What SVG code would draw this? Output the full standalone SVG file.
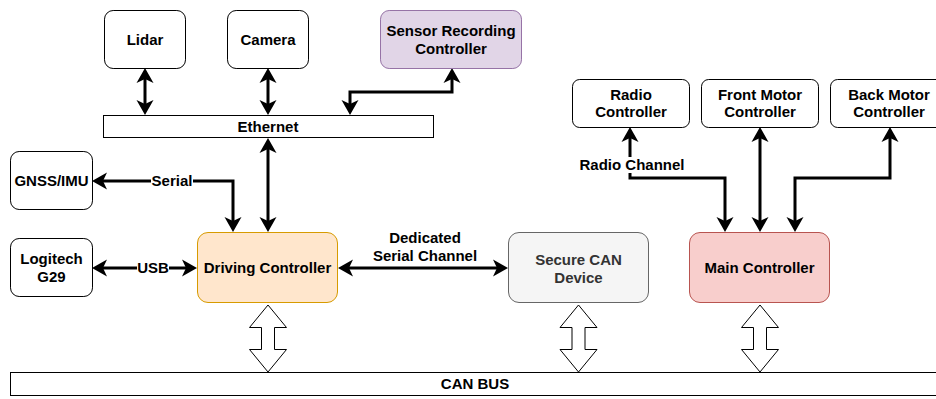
<svg xmlns="http://www.w3.org/2000/svg" width="936" height="399" viewBox="0 0 936 399">
<style>
.t{font-family:"Liberation Sans",Arial,Helvetica,sans-serif;font-weight:bold;font-size:15px;fill:#000;text-anchor:middle}
.box{fill:#fff;stroke:#000;stroke-width:1}
.ln{fill:none;stroke:#000;stroke-width:3}
.blk{fill:#fff;stroke:#000;stroke-width:1;stroke-linejoin:miter}
.bg{fill:#fff}
</style>
<defs>
<marker id="ah" markerUnits="userSpaceOnUse" viewBox="-5 -10 17 20" markerWidth="17" markerHeight="20" refX="0" refY="0" orient="auto-start-reverse">
<path d="M11,0 L-4,-8.5 L0,0 L-4,8.5 Z" fill="#000"/>
</marker>
</defs>
<rect width="936" height="399" fill="#fff"/>

<g id="connectors">
<line class="ln" x1="145" y1="79" x2="145" y2="104" marker-start="url(#ah)" marker-end="url(#ah)"/>
<line class="ln" x1="268" y1="79" x2="268" y2="104" marker-start="url(#ah)" marker-end="url(#ah)"/>
<path class="ln" d="M452,79 L452,92 L350,92 L350,104" marker-start="url(#ah)" marker-end="url(#ah)"/>
<line class="ln" x1="268" y1="149" x2="268" y2="221" marker-start="url(#ah)" marker-end="url(#ah)"/>
<path class="ln" d="M103,181 L233,181 L233,221" marker-start="url(#ah)" marker-end="url(#ah)"/>
<line class="ln" x1="103" y1="268" x2="186" y2="268" marker-start="url(#ah)" marker-end="url(#ah)"/>
<line class="ln" x1="349" y1="268" x2="497" y2="268" marker-start="url(#ah)" marker-end="url(#ah)"/>
<path class="ln" d="M630,138 L630,178 L725,178 L725,221" marker-start="url(#ah)" marker-end="url(#ah)"/>
<line class="ln" x1="760" y1="138" x2="760" y2="221" marker-start="url(#ah)" marker-end="url(#ah)"/>
<path class="ln" d="M890,138 L890,178 L795,178 L795,221" marker-start="url(#ah)" marker-end="url(#ah)"/>
<polygon class="blk" points="268,305 286.5,327.5 274.5,327.5 274.5,349.5 286.5,349.5 268,372 249.5,349.5 261.5,349.5 261.5,327.5 249.5,327.5"/>
<polygon class="blk" points="578.5,305 597,327.5 585,327.5 585,349.5 597,349.5 578.5,372 560,349.5 572,349.5 572,327.5 560,327.5"/>
<polygon class="blk" points="760,305 778.5,327.5 766.5,327.5 766.5,349.5 778.5,349.5 760,372 741.5,349.5 753.5,349.5 753.5,327.5 741.5,327.5"/>
<rect class="bg" x="151" y="173" width="42" height="16"/>
<text class="t" x="172" y="186.4">Serial</text>
<rect class="bg" x="137" y="260" width="32" height="16"/>
<text class="t" x="153" y="273.4">USB</text>
<rect class="bg" x="579" y="157" width="106" height="16"/>
<text class="t" x="632" y="170.4">Radio Channel</text>
<text class="t" x="425" y="243">Dedicated</text>
<text class="t" x="425" y="261">Serial Channel</text>
</g>

<g id="lidar">
<rect class="box" x="104.5" y="10.5" width="81" height="58" rx="8.7"/>
<text class="t" x="145" y="45">Lidar</text>
</g>
<g id="camera">
<rect class="box" x="227.5" y="10.5" width="81" height="58" rx="8.7"/>
<text class="t" x="268" y="45">Camera</text>
</g>
<g id="sensor-recording-controller">
<rect x="380.5" y="10.5" width="141" height="58" rx="8.7" fill="#e1d5e7" stroke="#9673a6"/>
<text class="t" x="451" y="36.4">Sensor Recording</text>
<text class="t" x="451" y="54.4">Controller</text>
</g>
<g id="ethernet">
<rect class="box" x="103.5" y="115.5" width="330" height="22"/>
<text class="t" x="268" y="132">Ethernet</text>
</g>
<g id="gnss-imu">
<rect class="box" x="10.5" y="151.5" width="82" height="58" rx="8.7"/>
<text class="t" x="51.5" y="186">GNSS/IMU</text>
</g>
<g id="logitech-g29">
<rect class="box" x="10.5" y="238.5" width="82" height="58" rx="8.7"/>
<text class="t" x="51.5" y="264.4">Logitech</text>
<text class="t" x="51.5" y="282.4">G29</text>
</g>
<g id="driving-controller">
<rect x="197.5" y="232.5" width="140" height="70" rx="10.5" fill="#ffe6cc" stroke="#d79b00"/>
<text class="t" x="267.5" y="273">Driving Controller</text>
</g>
<g id="secure-can-device">
<rect x="508.5" y="232.5" width="140" height="70" rx="10.5" fill="#f5f5f5" stroke="#666666"/>
<text class="t" x="578.5" y="265.4" style="fill:#333333">Secure CAN</text>
<text class="t" x="578.5" y="283.4" style="fill:#333333">Device</text>
</g>
<g id="main-controller">
<rect x="689.5" y="232.5" width="140" height="70" rx="10.5" fill="#f8cecc" stroke="#b85450"/>
<text class="t" x="759.5" y="273">Main Controller</text>
</g>
<g id="radio-controller">
<rect class="box" x="572.5" y="79.5" width="117" height="48" rx="7.2"/>
<text class="t" x="631" y="100.4">Radio</text>
<text class="t" x="631" y="117.4">Controller</text>
</g>
<g id="front-motor-controller">
<rect class="box" x="701.5" y="79.5" width="117" height="48" rx="7.2"/>
<text class="t" x="760" y="100.4">Front Motor</text>
<text class="t" x="760" y="117.4">Controller</text>
</g>
<g id="back-motor-controller">
<rect class="box" x="830.5" y="79.5" width="117" height="48" rx="7.2"/>
<text class="t" x="889" y="100.4">Back Motor</text>
<text class="t" x="889" y="117.4">Controller</text>
</g>
<g id="can-bus">
<rect class="box" x="10.5" y="372.5" width="930" height="23"/>
<text class="t" x="475" y="389">CAN BUS</text>
</g>
</svg>
